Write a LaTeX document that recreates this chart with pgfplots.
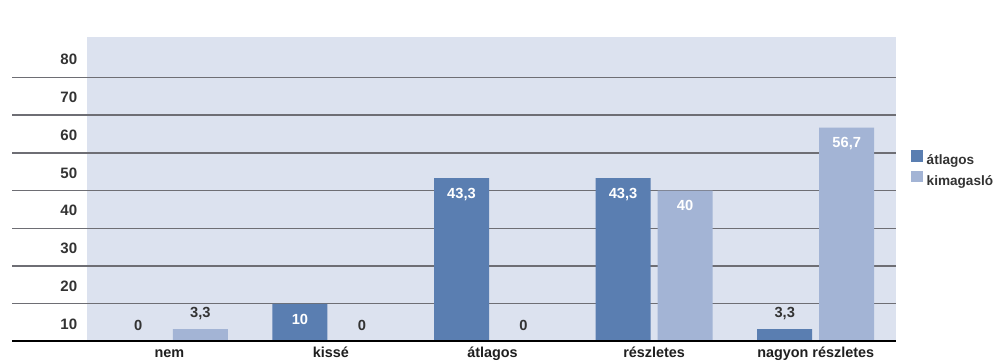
\documentclass[border=0pt]{standalone}
\usepackage{fontspec}
\setmainfont{Liberation Sans}
\usepackage{pgfplots}
\usepackage{pgfplotstable}
\pgfplotsset{compat=1.18}

\definecolor{atlag}{HTML}{5A7EB1}
\definecolor{kimag}{HTML}{A3B4D5}
\definecolor{panel}{HTML}{DCE2EF}
\definecolor{gridc}{HTML}{6E6E74}
\definecolor{labc}{HTML}{333333}

% részletesség szerinti megoszlás (%)
\pgfplotstableread{
x atlagos kimagaslo
0 0    3.3
1 10   0
2 43.3 0
3 43.3 40
4 3.3  56.7
}\adat

\begin{document}
\begin{tikzpicture}
\begin{axis}[
  at={(9pt,15.375pt)}, anchor=south west,
  scale only axis, width=663pt, height=228.15pt,
  set layers,
  xmin=-0.9734, xmax=4.4969, ymin=0, ymax=80.6,
  axis line style={draw=none},
  major tick length=0pt,
  ybar, bar width=41.25pt,
  xtick={0,...,4},
  xticklabels={nem,kissé,átlagos,részletes,nagyon részletes},
  xticklabel style={anchor=base, inner sep=0pt, yshift=-12.3pt,
    font=\bfseries\fontsize{10.8}{12}\selectfont, text=black!88},
  ytick={10,20,...,70}, yticklabels={},
  ymajorgrids, grid style={gridc, line width=1.1pt},
  extra y ticks={5,15,...,75},
  extra y tick labels={10,20,30,40,50,60,70,80},
  extra y tick style={grid=none,
    yticklabel style={anchor=east, inner sep=0pt, xshift=49.1pt, yshift=-1pt}},
  yticklabel style={font=\bfseries\fontsize{11.3}{13}\selectfont, text=labc},
  /pgf/number format/.cd, use comma, fixed, precision=1, assume math mode=true,
  /pgfplots/.cd,
  nodes near coords,
  visualization depends on={y \as \yval},
  % small bars get their value above the bar, tall bars inside it
  nodes near coords style={inner xsep=0pt, inner ysep=8.25pt,
    text height=6.75pt, text depth=0pt,
    font=\bfseries\fontsize{11}{13}\selectfont,
    /utils/exec={\ifdim\yval pt<5pt
        \pgfkeysalso{/tikz/anchor=south,/tikz/text=labc}%
      \else
        \pgfkeysalso{/tikz/anchor=north,/tikz/text=white}%
      \fi}},
  legend style={draw=none, fill=none, at={(1,1)}, anchor=north west,
    xshift=11pt, yshift=-84.3pt, inner sep=0pt, column sep=3pt, row sep=0pt,
    nodes={inner sep=0pt, text height=9pt, text depth=4.5pt,
      font=\bfseries\fontsize{10.2}{12}\selectfont, text=labc}},
  legend cell align=left,
  legend image code/.code={\fill[#1] (0pt,0pt) rectangle (8.8pt,8.8pt);},
]
\begin{pgfonlayer}{axis background}
  \fill[panel] (axis cs:-0.51,0) rectangle (rel axis cs:1,1);
\end{pgfonlayer}
\addplot[fill=atlag, draw=none, bar shift=-23.25pt] table[x=x, y=atlagos] {\adat};
\addlegendentry{átlagos}
\addplot[fill=kimag, draw=none, bar shift=23.25pt] table[x=x, y=kimagaslo] {\adat};
\addlegendentry{kimagasló}
\draw[black, line width=2.2pt] (rel axis cs:0,0) -- (rel axis cs:1,0);
\end{axis}
\pgfresetboundingbox
\path (0,0) rectangle (745.5pt,271.5pt);
\end{tikzpicture}
\end{document}
